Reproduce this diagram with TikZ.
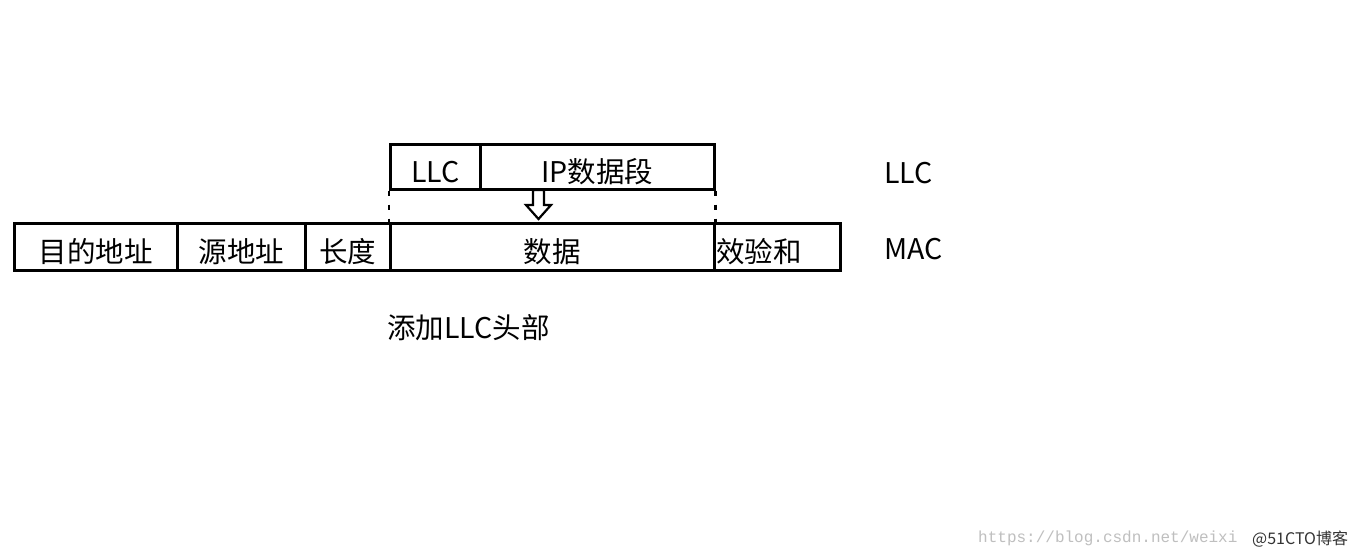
\documentclass[tikz,border=0pt]{standalone}
\usepackage{fontspec}
\setmainfont{Noto Sans CJK SC}
\newfontfamily\wmfont{Liberation Mono}
\begin{document}
\begin{tikzpicture}[x=1pt,y=-1pt,
  box/.style={draw=black, line width=2.6pt, anchor=north west, inner sep=0pt, text height=32pt, text depth=0pt, font=\fontsize{28.5}{30}\selectfont},
  lbl/.style={font=\fontsize{28.5}{30}\selectfont, inner sep=0pt}]
\useasboundingbox[fill=white] (0,0) rectangle (1360,557);
% MAC row
\node[box, minimum width=163pt, minimum height=47pt] (dst) at (13,222) {目的地址};
\node[box, minimum width=128pt, minimum height=47pt] (src) at (176,222) {源地址};
\node[box, minimum width=85pt, minimum height=47pt] (len) at (304,222) {长度};
\node[box, minimum width=324pt, minimum height=47pt] (data) at (389,222) {数据};
\node[box, minimum width=126pt, minimum height=47pt, align=left, text width=122pt] (fcs) at (713,222) {效验和};
% LLC row
\node[box, minimum width=90pt, minimum height=45pt] (llch) at (389,143) {LLC};
\node[box, minimum width=234pt, minimum height=45pt] (ip) at (479,143) {IP数据段};
% dotted guides
\draw[line width=2.6pt, dash pattern=on 5pt off 9pt] (llch.south west) -- (data.north west);
\draw[line width=2.6pt, dash pattern=on 5pt off 9pt] (ip.south east) -- (data.north east);
% hollow arrow
\draw[line width=2.2pt, line join=miter] (533,190) -- (544,190) -- (544,205) -- (551,205) -- (538.5,219) -- (526,205) -- (533,205) -- cycle;
% side labels
\node[lbl, anchor=west] (llclbl) at (884,173) {LLC};
\node[lbl, anchor=west] (maclbl) at (884,249) {MAC};
\node[lbl, anchor=west] (cap) at (387,328) {添加LLC头部};
% watermark
\node[anchor=west, text=black!25, font=\wmfont\fontsize{16}{17}\selectfont, inner sep=0pt] (wm) at (978,538) {https://blog.csdn.net/weixi};
\node[anchor=west, text=black!80, font=\fontsize{16}{17}\selectfont, inner sep=0pt] (wm2) at (1252,539) {@51CTO博客};
\end{tikzpicture}
\end{document}
